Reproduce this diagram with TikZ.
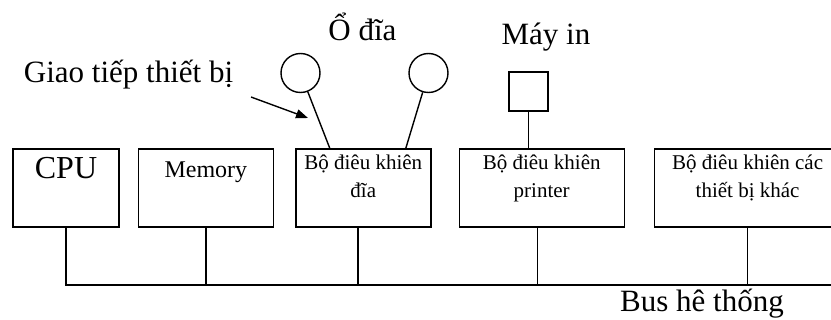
\documentclass[tikz,border=0pt]{standalone}
\usepackage{fontspec}
\setmainfont{Liberation Serif}
\usetikzlibrary{
  arrows.meta,
  positioning,
  calc
}
\tikzset{
  unitbox/.style={
    rectangle, draw, line width=0.7pt,
    minimum height=39pt, inner sep=0pt
  },
  cputext/.style={font=\fontsize{16}{18}\selectfont, inner sep=0pt, anchor=north},
  memtext/.style={font=\fontsize{12}{14}\selectfont, inner sep=0pt, anchor=north},
  ctrltext/.style={
    font=\fontsize{10.5}{14}\selectfont, inner sep=0pt,
    anchor=north, align=center
  },
  disk/.style={circle, draw, line width=0.7pt, minimum size=19.5pt, inner sep=0pt},
  prn/.style={rectangle, draw, line width=0.7pt, minimum size=19.5pt, inner sep=0pt},
  biglabel/.style={font=\fontsize{15.5}{18}\selectfont, inner sep=0pt, anchor=base},
  wire/.style={line width=0.7pt},
  pointer/.style={-{Triangle[length=6pt, width=4.5pt]}, line width=0.7pt}
}
\begin{document}
\begin{tikzpicture}[x=0.5pt, y=-0.5pt]
\useasboundingbox (0,0) rectangle (831,320);

% Controllers and units
\node[unitbox, minimum width=53pt] (cpu) at (66,188) {};
\node[unitbox, minimum width=67.5pt, right=9pt of cpu] (mem) {};
\node[unitbox, minimum width=67.5pt, right=10.5pt of mem] (diskc) {};
\node[unitbox, minimum width=82.5pt, right=13.5pt of diskc] (prnc) {};
\node[unitbox, minimum width=93pt, right=14.5pt of prnc] (otherc) {};

% Box texts
\node[cputext] (cputxt) at ([yshift=-4.5pt]cpu.north) {CPU};
\node[memtext] (memtxt) at ([yshift=-6.5pt]mem.north) {Memory};
\node[ctrltext] (disktxt) at ([yshift=-3pt]diskc.north) {Bộ điêu khiên\\đĩa};
\node[ctrltext] (prntxt) at ([yshift=-3pt]prnc.north) {Bộ điêu khiên\\printer};
\node[ctrltext] (othertxt) at ([yshift=-3pt]otherc.north) {Bộ điêu khiên các\\thiết bị khác};

% Devices
\node[disk] (diska) at (300.5,73) {};
\node[disk] (diskb) at (428.5,73) {};
\node[prn] (printer) at (528.5,91.5) {};
\draw[wire] (diska) -- ([xshift=-16.75pt]diskc.north);
\draw[wire] (diskb) -- ([xshift=21.25pt]diskc.north);
\draw[wire] (printer) -- (printer |- prnc.north);

% Labels
\node[biglabel] (disklbl) at (362.5,41) {Ổ đĩa};
\node[biglabel] (prnlbl) at (546,45) {Máy in};
\node[biglabel] (iflbl) at (128.5,83) {Giao tiếp thiết bị};

% Interface arrow
\coordinate (ifstart) at (251,97);
\coordinate (iftip) at (308,118);
\draw[pointer] (ifstart) -- (iftip);

% System bus
\coordinate (busend) at (840,285);
\draw[wire] (cpu.south) |- (busend);
\foreach \n/\dx in {mem/0, diskc/-2.75, prnc/-2.25, otherc/0}
  \draw[wire] ([xshift=\dx pt]\n.south) -- ([xshift=\dx pt]\n.south |- busend);
\node[biglabel] (buslbl) at (702,312) {Bus hê thống};

\end{tikzpicture}
\end{document}
